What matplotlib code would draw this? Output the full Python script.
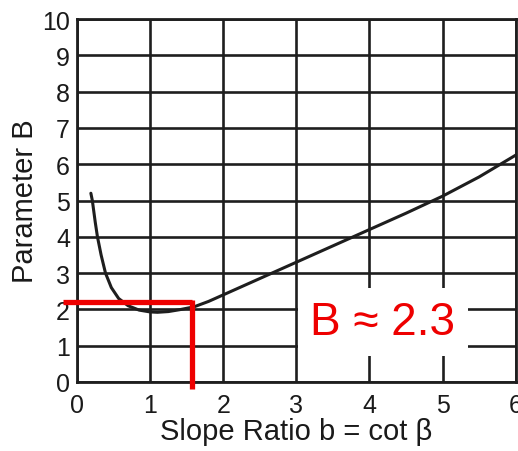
import numpy as np
import matplotlib.pyplot as plt

# Curve (slope ratio b vs parameter B)
slope_b = [0.19, 0.21, 0.25, 0.28, 0.33, 0.39, 0.47, 0.57, 0.70, 0.85, 1.00, 1.10,
           1.25, 1.40, 1.60, 1.80, 2.00, 2.50, 3.00, 3.50, 4.00, 4.50, 5.00, 5.50, 6.00]
param_B = [5.20, 5.00, 4.40, 4.00, 3.50, 3.00, 2.60, 2.30, 2.10, 1.98, 1.93, 1.92,
           1.94, 1.99, 2.07, 2.22, 2.40, 2.85, 3.30, 3.75, 4.20, 4.65, 5.12, 5.65, 6.25]

# Red read-off marker
read_b = 1.57
read_B = 2.2
label_txt = "B \u2248 2.3"

x_ticks = list(range(0, 7))
y_ticks = list(range(0, 11))

plt.rcParams['font.family'] = ['Liberation Sans', 'DejaVu Sans']

fig = plt.figure(figsize=(5.18, 4.52), dpi=100)
ax = fig.add_axes([0.1486, 0.1527, 0.847, 0.803])

ax.set_xlim(0, 6)
ax.set_ylim(0, 10)
ax.set_xticks(x_ticks)
ax.set_yticks(y_ticks)
ax.tick_params(length=0, labelsize=18, colors='#1a1a1a')
ax.tick_params(axis='x', pad=8)
ax.tick_params(axis='y', pad=5)
ax.grid(True, color='#1e1e1e', lw=1.9)
for s in ax.spines.values():
    s.set_color('#1e1e1e')
    s.set_linewidth(2)

ax.plot(slope_b, param_B, color='#1e1e1e', lw=2.2, solid_capstyle='round', zorder=3)

# red guide lines
ax.plot([-0.19, read_b], [read_B, read_B], color='#ee0000', lw=3.8,
        clip_on=False, solid_capstyle='butt', zorder=5)
ax.plot([read_b, read_b], [read_B + 0.05, -0.2], color='#ee0000', lw=3.8,
        clip_on=False, solid_capstyle='butt', zorder=5)

ax.text(4.18, 1.65, label_txt, color='#ee0000', fontsize=33, ha='center', va='center',
        zorder=6, bbox=dict(facecolor='white', edgecolor='none', pad=9))

ax.set_xlabel("Slope Ratio b = cot \u03b2", fontsize=21, color='#1a1a1a', labelpad=0)
ax.set_ylabel("Parameter B", fontsize=21, color='#1a1a1a', labelpad=2)

fig.savefig("out.png", dpi=100)
